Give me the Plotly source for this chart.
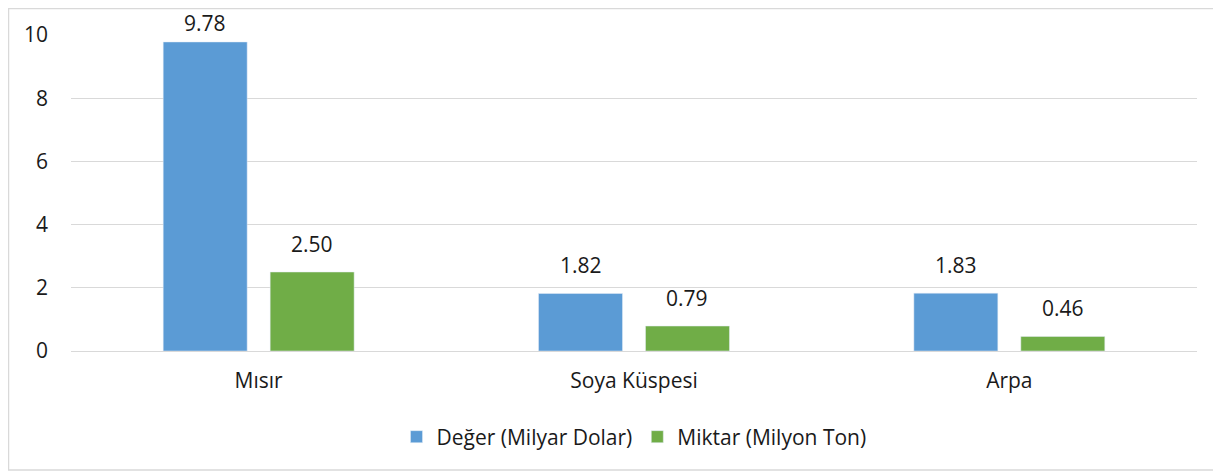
import plotly.graph_objects as go

categories = ["Mısır", "Soya Küspesi", "Arpa"]
deger = [9.78, 1.82, 1.83]
miktar = [2.50, 0.79, 0.46]
series_names = ["Değer (Milyar Dolar)", "Miktar (Milyon Ton)"]
y_ticks = [0, 2, 4, 6, 8, 10]

FONT = "'Open Sans', Lato, sans-serif"
TXT = "#1a1a1a"
FS = 21

OFF = 8  # page body margin
W, H = 1221 - OFF, 475 - OFF
l, r, t, b = 71 - OFF, 24, 35 - OFF, 124
pw, ph = W - l - r, H - t - b
Y_MAX = 10

def px(x):
    return (x - OFF - l) / pw

def py(y):
    return (H - b - (y - OFF)) / ph

fig = go.Figure()
series = [(deger, "#5b9bd5"), (miktar, "#70ad47")]
for i, (vals, col) in enumerate(series):
    fig.add_trace(go.Bar(x=categories, y=vals, name=series_names[i], marker_color=col,
                         offsetgroup=str(i)))

# data labels as annotations above bars (Excel-like spacing)
bargap, bgg = 0.43, 0.215
slot = (1 - bargap) / 2
annotations = []
for i, (vals, col) in enumerate(series):
    dx = (i - 0.5) * slot
    for k, v in enumerate(vals):
        bar_top = ph * (1 - v / Y_MAX)          # px from plot top
        baseline = max(bar_top - 18, -2)        # desired baseline, px from plot top
        shift = bar_top - baseline - 6
        annotations.append(dict(x=k + dx, y=v, xref="x", yref="y", text=f"{v:.2f}",
                                showarrow=False, yanchor="bottom", yshift=shift,
                                font=dict(size=FS, color=TXT, family=FONT)))

fig.update_layout(
    width=W, height=H,
    margin=dict(l=l, r=r, t=t, b=b),
    paper_bgcolor="white", plot_bgcolor="white",
    barmode="group", bargap=bargap, bargroupgap=bgg,
    font=dict(family=FONT, size=FS, color=TXT),
    legend=dict(orientation="h", x=0.5, xanchor="center", y=py(437), yanchor="middle",
                font=dict(size=FS, color=TXT, family=FONT), traceorder="normal",
                itemwidth=30),
    xaxis=dict(showgrid=False, showline=False, ticks="", ticklabelstandoff=15,
               tickfont=dict(size=FS, color=TXT)),
    yaxis=dict(range=[0, Y_MAX], tickvals=y_ticks, showgrid=True, gridcolor="#d9d9d9",
               gridwidth=1, zeroline=True, zerolinecolor="#d9d9d9", zerolinewidth=1,
               showline=False, ticks="", ticklabelstandoff=22,
               tickfont=dict(size=FS, color=TXT)),
    annotations=annotations,
    shapes=[dict(type="rect", xref="paper", yref="paper",
                 x0=px(8.5), x1=px(1214), y0=py(470), y1=py(8.5),
                 line=dict(color="#d9d9d9", width=1.5), fillcolor="rgba(0,0,0,0)", layer="below")],
)

fig.write_html("out.html")
